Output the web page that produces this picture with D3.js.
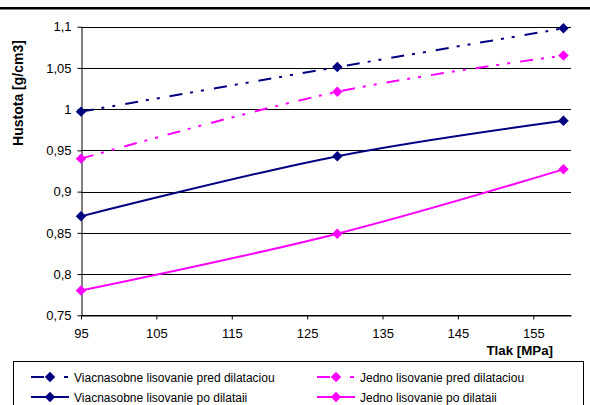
<!DOCTYPE html>
<html>
<head>
<meta charset="utf-8">
<script src="https://cdn.jsdelivr.net/npm/d3@7"></script>
<style>
  html, body { margin: 0; padding: 0; background: #fff; }
  svg { display: block; font-family: "Liberation Sans", Arial, sans-serif; }
</style>
</head>
<body>
<svg id="chart" width="590" height="405"></svg>
<script>
// Pressure values (MPa)
const pressures = [95, 129, 159];

// Density series (g/cm3)
const multiBefore = [0.997, 1.051, 1.098];
const singleBefore = [0.940, 1.021, 1.065];
const multiAfter = [0.870, 0.943, 0.986];
const singleAfter = [0.780, 0.849, 0.927];

const seriesNames = [
  "Viacnasobne lisovanie pred dilataciou",
  "Jedno lisovanie pred dilataciou",
  "Viacnasobne lisovanie po dilataii",
  "Jedno lisovanie po dilataii"
];

const xTicks = [95, 105, 115, 125, 135, 145, 155];
const yTicks = [0.75, 0.8, 0.85, 0.9, 0.95, 1, 1.05, 1.1];

const yTitle = "Hustota [g/cm3]";
const xTitle = "Tlak [MPa]";

const NAVY = "#000080", PINK = "#FF00FF";
const DASH = "13,8,3,8,3,10";

const series = [
  { name: seriesNames[0], values: multiBefore, color: NAVY, dash: DASH },
  { name: seriesNames[1], values: singleBefore, color: PINK, dash: DASH },
  { name: seriesNames[2], values: multiAfter, color: NAVY, dash: null },
  { name: seriesNames[3], values: singleAfter, color: PINK, dash: null }
];

const svg = d3.select("#chart");

// page rule across the top
svg.append("rect").attr("x", 0).attr("y", 7).attr("width", 590).attr("height", 2.5).attr("fill", "#000");

const plot = { left: 81, right: 571, top: 26.7, bottom: 315.3 };

const x = d3.scaleLinear().domain([95, 160]).range([plot.left, plot.right]);
const y = d3.scaleLinear().domain([0.75, 1.1]).range([plot.bottom, plot.top]);

const fmt = v => String(+v.toFixed(2)).replace(".", ",");

// horizontal gridlines
svg.append("g")
  .selectAll("line")
  .data(yTicks)
  .join("line")
  .attr("x1", plot.left).attr("x2", plot.right)
  .attr("y1", d => Math.round(y(d)) + 0.5).attr("y2", d => Math.round(y(d)) + 0.5)
  .attr("stroke", "#000").attr("stroke-width", 1);

// y axis
const yAxis = svg.append("g")
  .attr("transform", `translate(${Math.round(plot.left) + 0.5},0)`)
  .call(d3.axisLeft(y).tickValues(yTicks).tickFormat(fmt).tickSize(4).tickSizeOuter(0));
yAxis.select(".domain").attr("stroke", "#000");
yAxis.selectAll(".tick line").attr("stroke", "#000");
yAxis.selectAll("text").attr("font-size", 13).attr("fill", "#000").attr("x", -10)
  .attr("font-family", "Liberation Sans, Arial, sans-serif");

// x axis
const xAxis = svg.append("g")
  .attr("transform", `translate(0,${Math.round(plot.bottom) + 0.5})`)
  .call(d3.axisBottom(x).tickValues(xTicks).tickFormat(d => d).tickSize(4).tickSizeOuter(0));
xAxis.select(".domain").attr("stroke", "#000");
xAxis.selectAll(".tick line").attr("stroke", "#000");
xAxis.selectAll("text").attr("font-size", 13).attr("fill", "#000").attr("y", 13)
  .attr("font-family", "Liberation Sans, Arial, sans-serif");

// axis titles
svg.append("text")
  .attr("transform", "translate(23,93) rotate(-90)")
  .attr("text-anchor", "middle")
  .attr("font-size", 14).attr("font-weight", "bold")
  .text(yTitle);

svg.append("text")
  .attr("x", 553).attr("y", 355)
  .attr("text-anchor", "end")
  .attr("font-size", 13.3).attr("font-weight", "bold")
  .text(xTitle);

// series lines
const line = d3.line()
  .x(d => x(d[0]))
  .y(d => y(d[1]))
  .curve(d3.curveCatmullRom.alpha(0.5));

const diamond = d3.symbol().type(d3.symbolDiamond2).size(70);

series.forEach(s => {
  const pts = pressures.map((p, i) => [p, s.values[i]]);
  svg.append("path")
    .datum(pts)
    .attr("d", line)
    .attr("fill", "none")
    .attr("stroke", s.color)
    .attr("stroke-width", 2)
    .attr("stroke-dasharray", s.dash);
  svg.append("g")
    .selectAll("path")
    .data(pts)
    .join("path")
    .attr("d", diamond)
    .attr("transform", d => `translate(${x(d[0])},${y(d[1])})`)
    .attr("fill", s.color);
});

// legend
const legend = svg.append("g");
legend.append("rect")
  .attr("x", 13.5).attr("y", 361.5).attr("width", 570).attr("height", 50)
  .attr("fill", "#fff").attr("stroke", "#000").attr("stroke-width", 1);

const legendPos = [
  { lx: 31, ty: 377 }, { lx: 317, ty: 377 },
  { lx: 31, ty: 397 }, { lx: 317, ty: 397 }
];

series.forEach((s, i) => {
  const p = legendPos[i];
  const g = legend.append("g");
  if (s.dash) {
    g.append("line").attr("x1", p.lx).attr("x2", p.lx + 13).attr("y1", p.ty).attr("y2", p.ty)
      .attr("stroke", s.color).attr("stroke-width", 2);
    g.append("line").attr("x1", p.lx + 33).attr("x2", p.lx + 37).attr("y1", p.ty).attr("y2", p.ty)
      .attr("stroke", s.color).attr("stroke-width", 2);
  } else {
    g.append("line").attr("x1", p.lx).attr("x2", p.lx + 38).attr("y1", p.ty).attr("y2", p.ty)
      .attr("stroke", s.color).attr("stroke-width", 2);
  }
  g.append("path").attr("d", diamond).attr("transform", `translate(${p.lx + 19},${p.ty})`)
    .attr("fill", s.color);
  g.append("text").attr("x", p.lx + 43).attr("y", p.ty + 4.5)
    .attr("font-size", 12).attr("fill", "#000")
    .text(s.name);
});
</script>
</body>
</html>
